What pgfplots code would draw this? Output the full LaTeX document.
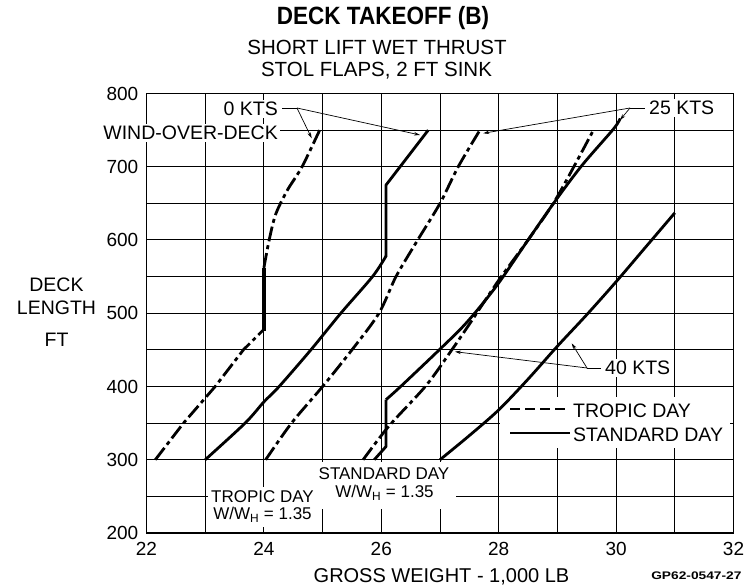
\documentclass[border=0pt]{standalone}
\usepackage{pgfplots}
\pgfplotsset{compat=1.18}
\usepackage{fontspec}
\setmainfont{Liberation Sans}
\usepackage{graphicx}
\usetikzlibrary{arrows.meta}
\tikzset{
  curve/.style={black, line width=2.8pt, line join=round, line cap=butt},
  tropic/.style={dash pattern=on 15pt off 4pt on 4pt off 4pt},
  arr/.style={black, line width=0.7pt, -{Stealth[length=6pt,width=3.5pt]}},
  lead/.style={black, line width=0.7pt},
  lab/.style={font=\fontsize{19.5}{22}\selectfont, inner sep=0pt},
}
\begin{document}
\begin{tikzpicture}[x=1pt,y=1pt]
\begin{axis}[
  at={(146.5pt,53pt)}, anchor=south west,
  x=58.7pt, y=0.7325pt,
  xmin=22, xmax=32, ymin=200, ymax=800,
  xtick={22,24,...,32}, minor xtick={23,25,...,31},
  ytick={200,300,...,800}, minor ytick={250,350,...,750},
  grid=both,
  major grid style={black, line width=1pt},
  minor grid style={black, line width=1pt},
  major tick length=0pt, minor tick length=0pt,
  axis line style={black, line width=1.6pt},
  /pgf/number format/assume math mode=true,
  /pgf/number format/1000 sep={},
  tick label style={font=\fontsize{19}{21}\selectfont},
  xticklabel style={anchor=north, inner sep=0pt, yshift=-9pt},
  yticklabel style={anchor=east, inner sep=0pt, xshift=-8pt},
  clip=false,
]
% white boxes behind annotations (cover grid)
\fill[white] (axis cs:28.02,316) rectangle (axis cs:31.94,386);
\fill[white] (axis cs:23.04,208) rectangle (axis cs:24.92,263);
\fill[white] (axis cs:24.92,233) rectangle (axis cs:27.28,297);

% 0 kts, tropic day
\addplot[curve, tropic] coordinates {(22.15,300) (22.63,350) (23.17,400) (23.65,450) (24.0,478)};
\addplot[black, line width=3.4pt] coordinates {(24.0,476) (24.0,562)};
\addplot[curve, tropic, smooth] coordinates {(24.0,562) (24.09,600) (24.2,635) (24.4,668) (24.65,700) (24.95,750)};
% 0 kts, standard day
\addplot[curve, smooth] coordinates {(23.0,300) (23.68,350) (24.0,379) (24.26,400) (24.8,450) (25.31,500) (25.85,550) (26.08,578)};
\addplot[curve] coordinates {(26.08,577) (26.08,675) (26.8,750)};
% 25 kts, tropic day
\addplot[curve, tropic, smooth] coordinates {(24.03,300) (24.47,350) (25.0,400) (25.5,450) (25.96,500) (26.25,550) (26.62,600) (27.0,650) (27.31,700) (27.68,750)};
% 40 kts, tropic day
\addplot[curve, tropic, smooth] coordinates {(25.69,300) (26.13,346) (26.76,401) (27.21,451) (27.5,485) (28.0,545) (28.5,600) (28.93,650) (29.28,700) (29.62,751)};
% 25 kts, standard day
\addplot[curve] coordinates {(25.88,300) (26.08,318) (26.08,382)};
\addplot[curve, smooth] coordinates {(26.08,382) (26.33,400) (27.0,451) (27.45,487) (27.96,537) (28.5,600) (28.97,654) (29.42,702) (29.96,752) (30.07,766)};
% 40 kts, standard day
\addplot[curve, smooth] coordinates {(27,300) (27.5,333) (28,368) (28.5,410) (29,455) (29.5,498) (30,543) (30.5,590) (31,637)};
\end{axis}

% titles
\node[anchor=base] at (383,561) {\scalebox{0.9}[1]{\fontsize{25}{28}\selectfont\bfseries DECK TAKEOFF (B)}};
\node[anchor=base] at (377,531) {\fontsize{20.5}{22}\selectfont SHORT LIFT WET THRUST};
\node[anchor=base] at (376.5,509) {\fontsize{20.5}{22}\selectfont STOL FLAPS, 2 FT SINK};

% axis labels
\node[anchor=base] at (441.5,3) {\fontsize{20}{22}\selectfont GROSS WEIGHT - 1,000 LB};
\node[anchor=base] at (56.5,294) {\fontsize{19.5}{22}\selectfont DECK};
\node[anchor=base] at (56.5,271) {\fontsize{19.5}{22}\selectfont LENGTH};
\node[anchor=base] at (56.5,239) {\fontsize{19.5}{22}\selectfont FT};
\node[anchor=base east] at (745,6) {\scalebox{1.25}[1]{\fontsize{11}{12}\selectfont\bfseries GP62-0547-27}};

% wind labels
\node[lab, anchor=base east, fill=white, inner sep=2pt] at (280,470) {0 KTS};
\node[lab, anchor=base east, fill=white, inner sep=2pt] at (280,446) {WIND-OVER-DECK};
\draw[lead] (282,478) -- (297,478);
\draw[arr] (297,478) -- (311.7,447.7);
\draw[arr] (297,478) -- (420,451);

\node[lab, anchor=base west, fill=white, inner sep=2pt] at (647,471) {25 KTS};
\draw[lead] (630,478) -- (645,478);
\draw[arr] (630,478) -- (483.3,452.7);
\draw[arr] (630,478) -- (620,466);

\node[lab, anchor=base west, fill=white, inner sep=2pt] at (603,211) {40 KTS};
\draw[lead] (587,218) -- (601,218);
\draw[arr] (587,218) -- (455,234.3);
\draw[arr] (587,218) -- (571.7,242.7);

% legend
\draw[black, line width=2.2pt, dash pattern=on 10pt off 5pt] (510,177) -- (570,177);
\draw[black, line width=2.2pt] (510,153) -- (570,153);
\node[lab, anchor=base west] at (573,168) {TROPIC DAY};
\node[lab, anchor=base west] at (573,144) {STANDARD DAY};

% condition annotations
\node[anchor=base, inner sep=0pt] at (262.5,83) {\fontsize{17}{19}\selectfont TROPIC DAY};
\node[anchor=base, inner sep=0pt] at (262.5,66) {\fontsize{17}{19}\selectfont W/W\textsubscript{H} = 1.35};
\node[anchor=base, inner sep=0pt] at (384,106) {\fontsize{17}{19}\selectfont STANDARD DAY};
\node[anchor=base, inner sep=0pt] at (384.5,88) {\fontsize{17}{19}\selectfont W/W\textsubscript{H} = 1.35};

\pgfresetboundingbox
\path[use as bounding box] (0,0) rectangle (756,586);
\end{tikzpicture}
\end{document}
